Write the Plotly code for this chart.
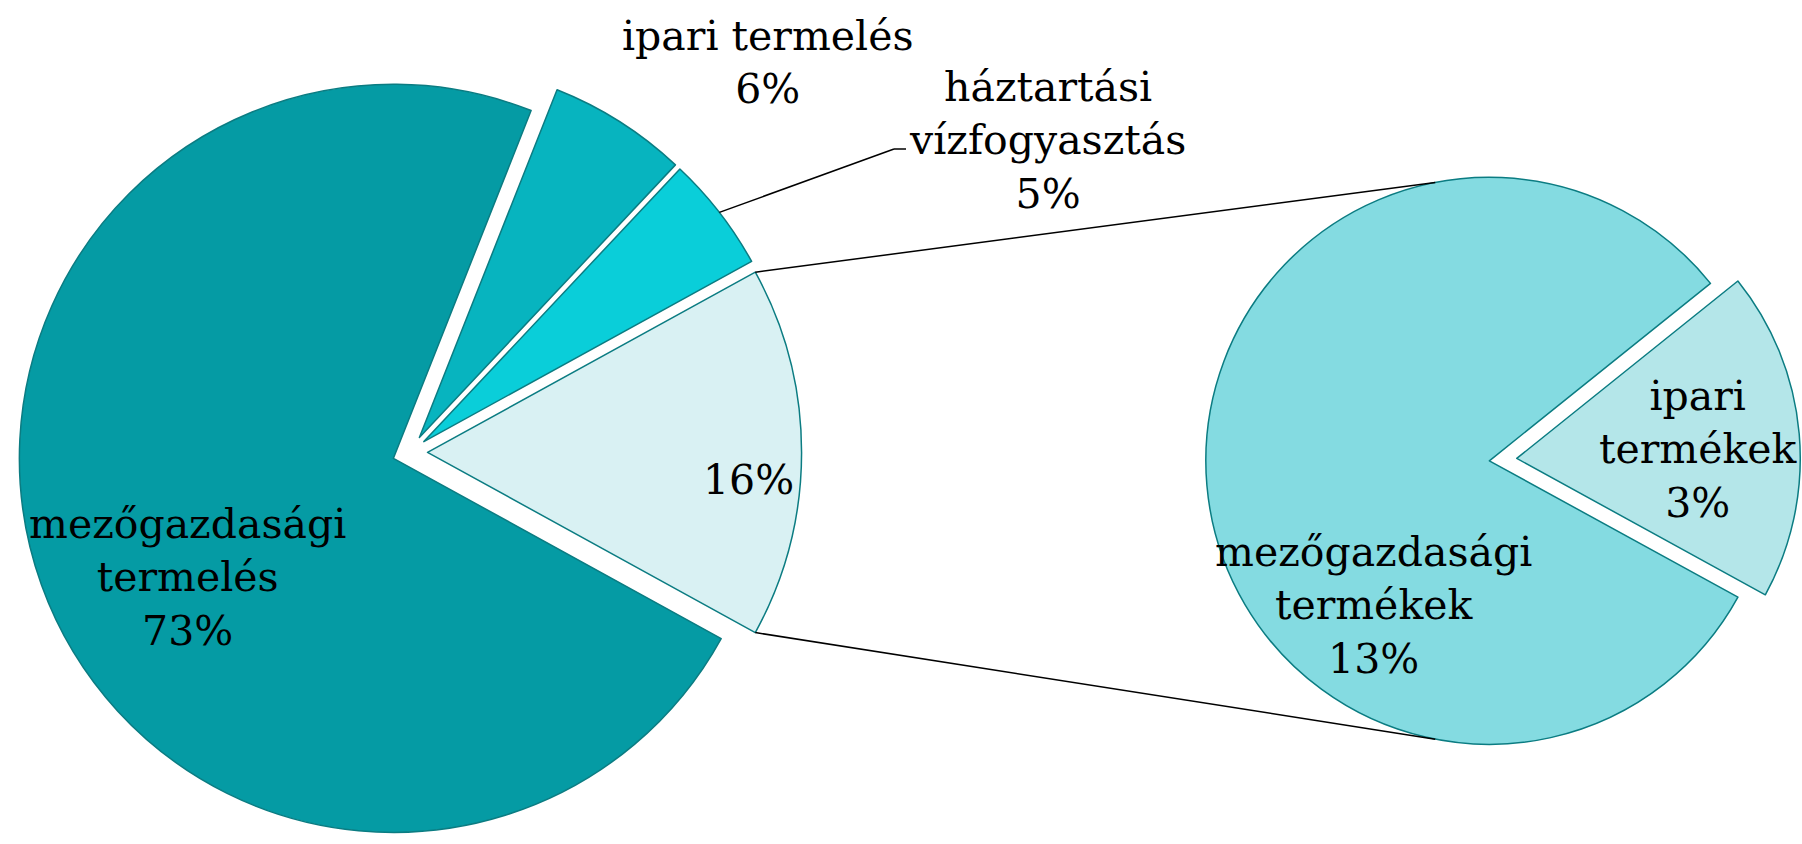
import math
import plotly.graph_objects as go

# ---------------- data ----------------
main_labels = ["ipari termelés", "háztartási vízfogyasztás", "egyéb", "mezőgazdasági termelés"]
main_values = [6, 5, 16, 73]
main_text = ["ipari termelés", "háztartási<br>vízfogyasztás", "", "mezőgazdasági<br>termelés"]

sub_labels = ["ipari termékek", "mezőgazdasági termékek"]
sub_values = [3, 13]
sub_text = ["ipari<br>termékek", "mezőgazdasági<br>termékek"]

# ---------------- style / layout ----------------
W, H = 1802, 844
main_colors = ["#07B4BF", "#0ACED9", "#D9F1F3", "#059BA4"]
sub_colors = ["#B4E6E9", "#84DBE1"]
main_pull = [0.047] * 4
sub_pull = [0.097, 0.0]
main_dx, main_dy = [0.0, 0.455], [0.0, 0.928]
sub_dx, sub_dy = [0.6539, 0.9991], [0.06, 0.848]
edge = "#0B7C82"
FONT = "DejaVu Serif"
FS = 41

main_total = sum(main_values)
sub_total = sum(sub_values)
# "egyéb" slice centred at 3 o'clock
main_rot = 90 - 360 * (sum(main_values[:2]) + main_values[2] / 2) / main_total
# second pie: first slice centred slightly above 3 o'clock
sub_rot = 85 - 360 * (sub_values[0] / 2) / sub_total


def pie_geom(dx, dy, pulls):
    bw = W * (dx[1] - dx[0])
    bh = H * (dy[1] - dy[0])
    r = min(bw, bh) / 2 / (1 + max(pulls))
    cx = W * (dx[0] + dx[1]) / 2
    cy = H * (1 - dy[0]) - bh / 2
    return cx, cy, r


def pt(cx, cy, r, ang):
    a = math.radians(ang)
    return cx + r * math.sin(a), cy - r * math.cos(a)


def paper(px, py):
    return px / W, 1 - py / H


fig = go.Figure()
fig.add_trace(go.Pie(
    labels=main_labels, values=main_values, sort=False, direction="clockwise",
    rotation=main_rot, pull=main_pull, textinfo="none", hoverinfo="label+percent",
    marker=dict(colors=main_colors, line=dict(color=edge, width=1.5)),
    domain=dict(x=main_dx, y=main_dy), showlegend=False,
))
fig.add_trace(go.Pie(
    labels=sub_labels, values=sub_values, sort=False, direction="clockwise",
    rotation=sub_rot, pull=sub_pull, textinfo="none", hoverinfo="label+value",
    marker=dict(colors=sub_colors, line=dict(color=edge, width=1.5)),
    domain=dict(x=sub_dx, y=sub_dy), showlegend=False,
))

# geometry of both pies (same formula as plotly uses)
mcx, mcy, mr = pie_geom(main_dx, main_dy, main_pull)
scx, scy, sr = pie_geom(sub_dx, sub_dy, sub_pull)

# slice angle ranges of main pie
starts = []
acc = main_rot
for v in main_values:
    starts.append((acc, acc + 360 * v / main_total))
    acc += 360 * v / main_total

shapes = []
# connectors from "egyéb" slice to the second pie
a0, a1 = starts[2]
mid = (a0 + a1) / 2
vx, vy = pt(mcx, mcy, main_pull[2] * mr, mid)
top_l = pt(vx, vy, mr, a0)
bot_l = pt(vx, vy, mr, a1)
top_r = pt(scx, scy, sr, -11)
bot_r = pt(scx, scy, sr, 191)
for p, q in [(top_l, top_r), (bot_l, bot_r)]:
    x0, y0 = paper(*p)
    x1, y1 = paper(*q)
    shapes.append(dict(type="line", xref="paper", yref="paper", x0=x0, y0=y0, x1=x1, y1=y1,
                       line=dict(color="black", width=1.5)))

# leader line for "háztartási vízfogyasztás"
b0, b1 = starts[1]
bm = (b0 + b1) / 2
bvx, bvy = pt(mcx, mcy, main_pull[1] * mr, bm)
lead0 = pt(bvx, bvy, mr, bm)
elbow = (894, 149)
lead_end = (906, 149)
for p, q in [(lead0, elbow), (elbow, lead_end)]:
    x0, y0 = paper(*p)
    x1, y1 = paper(*q)
    shapes.append(dict(type="line", xref="paper", yref="paper", x0=x0, y0=y0, x1=x1, y1=y1,
                       line=dict(color="black", width=1.5)))

# labels
label_pos_main = [(767, 62), (1047, 141), (748, 480), (187, 577)]
label_pos_sub = [(1698, 449), (1373, 605)]
annotations = []
for txt, v, pos in zip(main_text, main_values, label_pos_main):
    t = f"{txt}<br>{v}%" if txt else f"{v}%"
    x, y = paper(*pos)
    annotations.append(dict(text=t, x=x, y=y, xref="paper", yref="paper", showarrow=False,
                            xanchor="center", yanchor="middle", align="center",
                            font=dict(family=FONT, size=FS, color="black")))
for txt, v, pos in zip(sub_text, sub_values, label_pos_sub):
    t = f"{txt}<br>{v}%"
    x, y = paper(*pos)
    annotations.append(dict(text=t, x=x, y=y, xref="paper", yref="paper", showarrow=False,
                            xanchor="center", yanchor="middle", align="center",
                            font=dict(family=FONT, size=FS, color="black")))

fig.update_layout(
    width=W, height=H, margin=dict(l=0, r=0, t=0, b=0),
    paper_bgcolor="white", plot_bgcolor="white",
    shapes=shapes, annotations=annotations, showlegend=False,
)
fig.write_html(
    "out.html",
    config={"displayModeBar": False},
    post_script="document.body.style.margin='0';document.body.style.overflow='hidden';",
)
